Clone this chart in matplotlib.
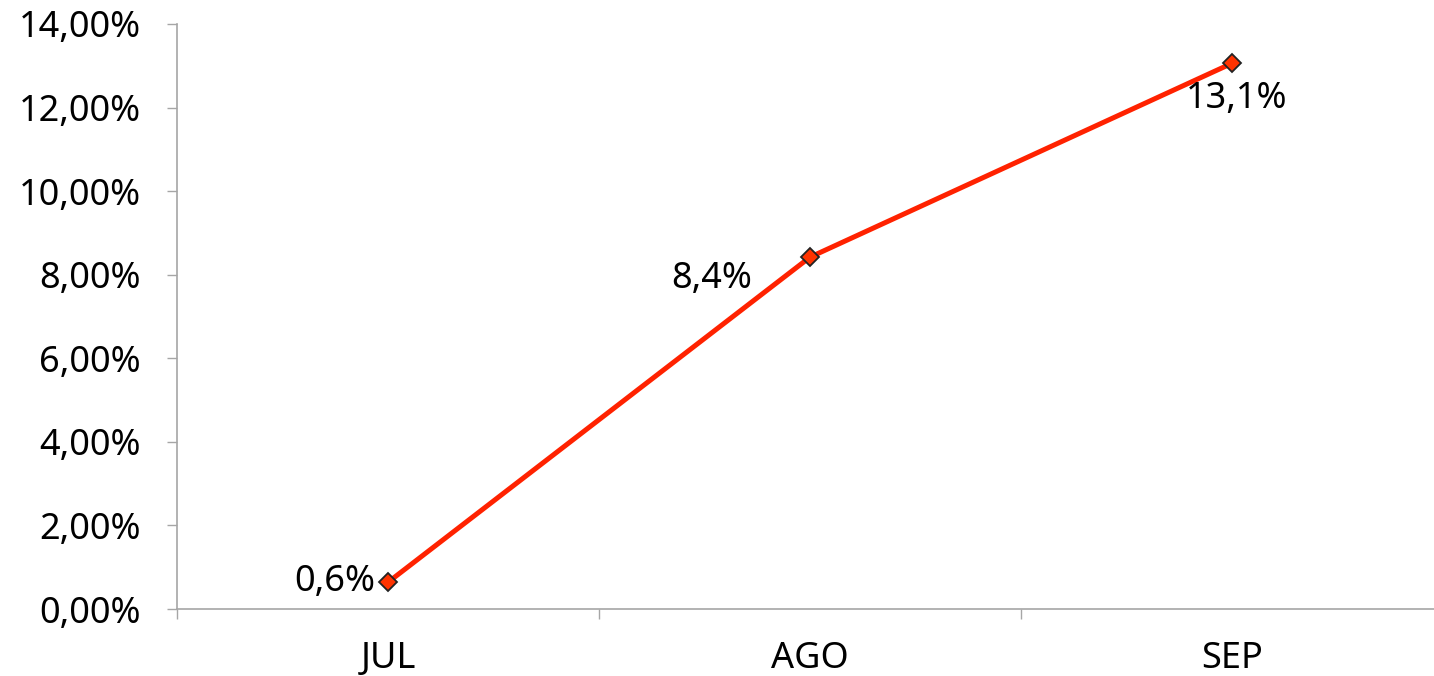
import matplotlib.pyplot as plt
from matplotlib.ticker import FuncFormatter, FixedLocator

# Data
months = ["JUL", "AGO", "SEP"]
values = [0.64, 8.42, 13.06]  # percent
label_offsets = [(-13, 0), (-98, -22), (5, -36)]  # pixels
label_align = ["right", "center", "center"]

plt.rcParams['font.family'] = ['Noto Sans', 'DejaVu Sans']

fig = plt.figure(figsize=(14.34, 6.76), dpi=100)
ax = fig.add_axes([177 / 1434, 67 / 676, 1266 / 1434, 585 / 676])

x = list(range(len(months)))
ax.plot(x, values, color='#ff2200', lw=3.6, marker='D', markersize=9,
        markerfacecolor='#ff3300', markeredgecolor='#222222', markeredgewidth=1.3,
        solid_capstyle='round', zorder=3)

for xi, v, off, ha in zip(x, values, label_offsets, label_align):
    ax.annotate(f"{v:.1f}%".replace('.', ','), (xi, v), xytext=off,
                textcoords='offset pixels', ha=ha, va='center', fontsize=26)

ax.set_xlim(-0.5, 2.5)
ax.set_ylim(0, 14)
ax.set_yticks(range(0, 15, 2))
ax.yaxis.set_major_formatter(FuncFormatter(lambda v, p: f"{v:.2f}%".replace('.', ',')))
ax.set_xticks(x)
ax.set_xticklabels(months)
ax.xaxis.set_minor_locator(FixedLocator([-0.5, 0.5, 1.5, 2.5]))

ax.tick_params(axis='x', which='major', length=0, pad=23, labelsize=26)
ax.tick_params(axis='x', which='minor', length=7, color='#a6a6a6', width=1)
ax.tick_params(axis='y', length=7, color='#a6a6a6', width=1, pad=19, labelsize=26)

for s in ['top', 'right']:
    ax.spines[s].set_visible(False)
for s in ['left', 'bottom']:
    ax.spines[s].set_color('#a6a6a6')
    ax.spines[s].set_linewidth(1.2)

fig.savefig('out.png', dpi=100)
